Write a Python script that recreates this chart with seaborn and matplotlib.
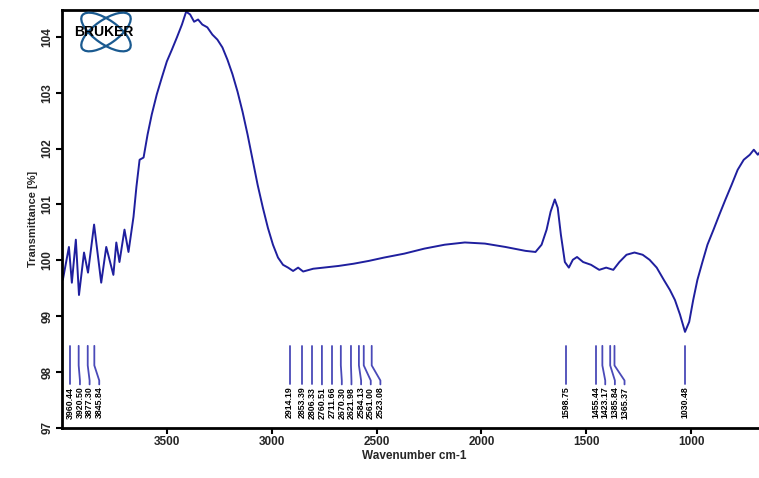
import numpy as np
import pandas as pd
import seaborn as sns
import matplotlib.pyplot as plt
from matplotlib.patches import Ellipse

# spectrum (wavenumber cm-1, transmittance %)
wavenumber = [3996, 3967, 3953, 3934, 3919, 3895, 3876, 3847, 3813, 3789, 3755, 3741,
              3726, 3702, 3683, 3659, 3645, 3630, 3611, 3592, 3572, 3548, 3524, 3500,
              3476, 3452, 3428, 3408, 3389, 3370, 3351, 3331, 3307, 3283, 3259, 3235,
              3211, 3187, 3163, 3139, 3115, 3091, 3067, 3042, 3018, 2994, 2970, 2946,
              2922, 2898, 2874, 2850, 2802, 2753, 2681, 2609, 2537, 2464, 2368, 2272,
              2175, 2079, 1983, 1886, 1790, 1742, 1713, 1689, 1670, 1650, 1636, 1621,
              1602, 1583, 1564, 1544, 1515, 1477, 1438, 1405, 1371, 1342, 1308, 1270,
              1231, 1198, 1164, 1130, 1101, 1077, 1053, 1029, 1009, 990, 970, 946,
              922, 893, 865, 836, 807, 778, 749, 720, 701, 682, 663, 639]
transmittance = [99.65, 100.24, 99.60, 100.37, 99.38, 100.14, 99.78, 100.64, 99.60, 100.24,
                 99.74, 100.32, 99.97, 100.55, 100.15, 100.78, 101.32, 101.80, 101.84, 102.25,
                 102.61, 102.97, 103.27, 103.56, 103.77, 103.99, 104.22, 104.45, 104.40, 104.27,
                 104.31, 104.22, 104.17, 104.04, 103.95, 103.81, 103.59, 103.33, 103.02, 102.66,
                 102.25, 101.80, 101.35, 100.94, 100.58, 100.28, 100.05, 99.92, 99.87, 99.81,
                 99.87, 99.80, 99.85, 99.87, 99.90, 99.94, 99.99, 100.05, 100.12, 100.21,
                 100.28, 100.32, 100.30, 100.24, 100.17, 100.15, 100.28, 100.55, 100.87, 101.09,
                 100.94, 100.46, 99.97, 99.87, 100.01, 100.06, 99.97, 99.92, 99.83, 99.87,
                 99.83, 99.97, 100.10, 100.14, 100.10, 100.01, 99.87, 99.65, 99.47, 99.29,
                 99.03, 98.72, 98.90, 99.29, 99.65, 99.97, 100.28, 100.55, 100.82, 101.09,
                 101.35, 101.62, 101.80, 101.89, 101.98, 101.89, 101.98, 101.93]

# peak picks, grouped as in the plot
peak_groups = [
    [3960.44, 3920.50, 3877.30, 3845.84],
    [2914.19, 2853.39, 2806.33, 2760.51, 2711.66, 2670.30, 2621.98, 2584.13, 2561.00, 2523.08],
    [1598.75, 1455.44, 1423.17, 1385.84, 1365.37],
    [1030.48],
]

yticks = [97, 98, 99, 100, 101, 102, 103, 104]
xticks = [3500, 3000, 2500, 2000, 1500, 1000]

sns.set_theme(style="white")
plt.rcParams["font.family"] = ["Liberation Sans", "DejaVu Sans"]
plt.rcParams["font.weight"] = "bold"

fig = plt.figure(figsize=(7.59, 4.78), dpi=100)
ax = fig.add_axes([62 / 759, 50 / 478, 1 - 62 / 759 + 0.01, 418 / 478])

df = pd.DataFrame({"wn": wavenumber, "T": transmittance})
sns.lineplot(data=df, x="wn", y="T", ax=ax, sort=False, estimator=None,
             color="#1f1f9e", linewidth=1.4)

# peak markers with bent leader lines
line_col = "#4a4ab8"
for grp in peak_groups:
    label_x = []
    for i, p in enumerate(grp):
        label_x.append(p if i == 0 else min(p, label_x[-1] - 46))
    for p, lx in zip(grp, label_x):
        ax.plot([p, p, lx, lx], [98.47, 98.12, 97.85, 97.78], color=line_col, lw=1.3)
        ax.text(lx, 97.74, f"{p:.2f}", rotation=90, ha="center", va="top",
                fontsize=6.3, fontweight="bold", color="black")

ax.set_xlim(4000, 640)
ax.set_ylim(97, 104.48)
ax.set_xticks(xticks)
ax.set_yticks(yticks)
ax.set_yticklabels([str(v) for v in yticks], rotation=90, va="center")
ax.tick_params(axis="both", labelsize=8.5, length=4, width=1.5, color="black",
               direction="out", pad=2)
ax.tick_params(axis="both", which="both", left=True, bottom=True)
for lbl in ax.get_xticklabels() + ax.get_yticklabels():
    lbl.set_fontweight("bold")
ax.set_xlabel("Wavenumber cm-1", fontsize=8.5, fontweight="bold", labelpad=1)
ax.set_ylabel("Transmittance [%]", fontsize=8, fontweight="bold", labelpad=3)
for s in ["left", "top", "bottom"]:
    ax.spines[s].set_color("black")
    ax.spines[s].set_linewidth(2)
ax.spines["right"].set_visible(False)

# Bruker logo
lax = fig.add_axes([62 / 759, 1 - 56 / 478, 85 / 759, 48 / 478])
lax.set_xlim(0, 85)
lax.set_ylim(0, 48)
lax.axis("off")
for ang in (35, -35):
    lax.add_patch(Ellipse((44, 24), 58, 24, angle=ang, fill=False,
                          edgecolor="#1a5a90", lw=1.6))
lax.text(42, 24, "BRUKER", ha="center", va="center", fontsize=10,
         fontweight="bold", color="black")

fig.savefig("out.png", dpi=100)
